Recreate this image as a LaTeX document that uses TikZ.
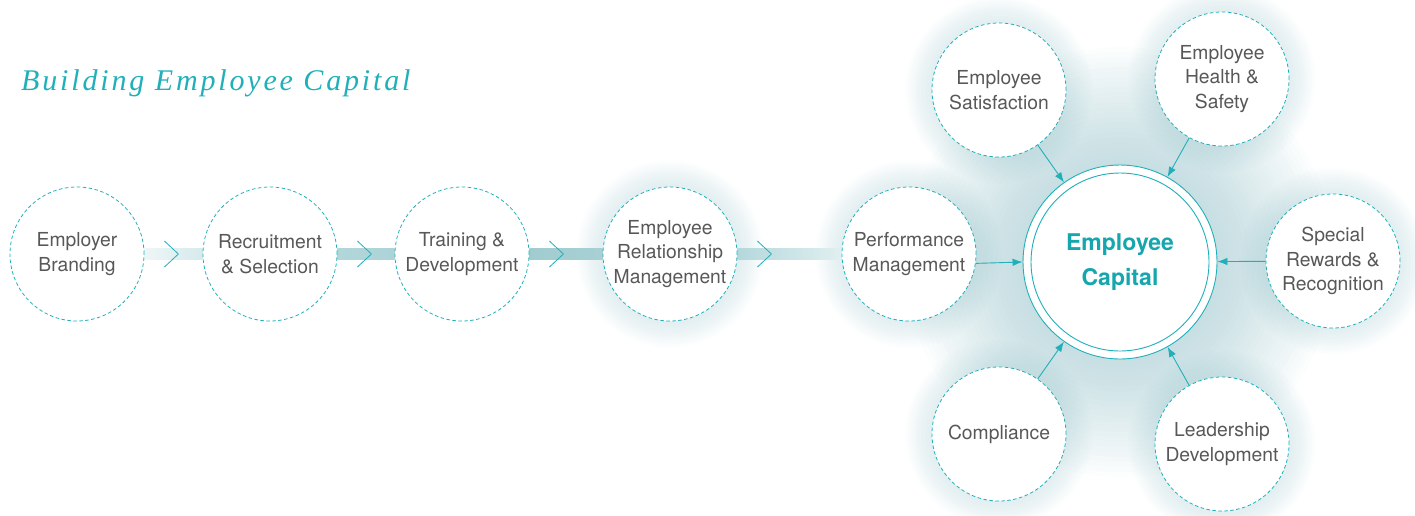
\documentclass[tikz,border=0pt]{standalone}
\usepackage{fontspec}
\setmainfont{TeX Gyre Heros}
\newfontfamily\titlefont[LetterSpace=9.5]{Liberation Serif}
\usetikzlibrary{arrows.meta,backgrounds}

\definecolor{ecteal}{RGB}{32,176,186}
\definecolor{ecdark}{RGB}{22,166,174}
\definecolor{ecgray}{RGB}{88,88,88}
\definecolor{ecglow}{RGB}{105,168,178}
\definecolor{barA}{RGB}{238,246,247}
\definecolor{barB}{RGB}{214,234,236}
\definecolor{barC}{RGB}{178,215,219}
\definecolor{barD}{RGB}{172,211,215}
\definecolor{barE}{RGB}{160,204,208}
\definecolor{barF}{RGB}{168,208,212}
\definecolor{barG}{RGB}{180,216,220}
\definecolor{barH}{RGB}{225,239,240}

\pgfdeclareradialshading{coreshade}{\pgfpoint{0bp}{0bp}}{color(0bp)=(white); color(38bp)=(white); color(50bp)=(ecglow!22!white)}

\tikzset{
  every node/.style={font=\fontsize{19.3pt}{24.5pt}\selectfont, text=ecgray},
  stage/.style={circle, minimum size=134pt, inner sep=0pt, align=center, draw=ecteal, line width=0.8pt, dash pattern=on 3.5pt off 2.5pt, fill=white},
  core/.style={circle, minimum size=194pt, inner sep=0pt, draw=ecteal, line width=0.9pt, fill=white},
  feed/.style={draw=ecteal, line width=0.9pt, -{Latex[length=10pt,width=7.5pt]}},
  chevron/.style={draw=ecteal, line width=0.8pt},
}

\begin{document}
\begin{tikzpicture}[x=1pt,y=-1pt]
\useasboundingbox (0,0) rectangle (1415,515);

\node[anchor=base west, inner sep=0pt, text=ecteal, font=\titlefont\itshape\fontsize{30pt}{32pt}\selectfont] (title) at (21,90) {Building Employee Capital};

\node[stage] (eb) at (77,254) {Employer\\Branding};
\node[stage] (rs) at (270,254) {Recruitment\\\& Selection};
\node[stage] (td) at (462,254) {Training \&\\Development};
\node[stage] (erm) at (670,254) {Employee\\Relationship\\Management};
\node[stage] (pm) at (909,254) {Performance\\Management};

\node[core] (ec) at (1120,262) {};
\shade[shading=coreshade] (ec) circle (89pt);
\draw[ecteal, line width=0.9pt] (ec) circle (89pt);
\node[text=ecdark, font=\fontsize{23pt}{35pt}\selectfont\bfseries, align=center] (ectext) at (ec) {Employee\\Capital};

\node[stage] (es) at (999,90) {Employee\\Satisfaction};
\node[stage] (hs) at (1222,79) {Employee\\Health \&\\Safety};
\node[stage] (sr) at (1333,261) {Special\\Rewards \&\\Recognition};
\node[stage] (co) at (999,434) {Compliance};
\node[stage] (ld) at (1222,444) {Leadership\\Development};

\draw[feed] (pm.-8) -- (ec.west);
\draw[feed] (sr) -- (ec);
\draw[feed] (es) -- (ec);
\draw[feed] (hs) -- (ec);
\draw[feed] (co) -- (ec);
\draw[feed] (ld) -- (ec);

\begin{scope}[on background layer]
\foreach \r in {100,105,...,215} \fill[ecglow, opacity=.02] (ec) circle (\r pt);
\foreach \n in {erm,pm,es,hs,sr,co,ld} \foreach \r in {68,70,...,94} \fill[ecglow, opacity=.016] (\n) circle (\r pt);
\shade[left color=barA, right color=barB] ([yshift=5.5pt]eb.east) rectangle ([yshift=-5.5pt]rs.west);
\shade[left color=barC, right color=barD] ([yshift=5.5pt]rs.east) rectangle ([yshift=-5.5pt]td.west);
\shade[left color=barE, right color=barF] ([yshift=5.5pt]td.east) rectangle ([yshift=-5.5pt]erm.west);
\shade[left color=barG, right color=barH] ([yshift=5.5pt]erm.east) rectangle ([yshift=-5.5pt]pm.west);
\end{scope}

\draw[chevron] ([shift={(20pt,13pt)}]eb.east) -- ++(14pt,-13pt) -- ++(-14pt,-13pt);
\draw[chevron] ([shift={(20pt,13pt)}]rs.east) -- ++(14pt,-13pt) -- ++(-14pt,-13pt);
\draw[chevron] ([shift={(20pt,13pt)}]td.east) -- ++(14pt,-13pt) -- ++(-14pt,-13pt);
\draw[chevron] ([shift={(20pt,13pt)}]erm.east) -- ++(14pt,-13pt) -- ++(-14pt,-13pt);
\end{tikzpicture}
\end{document}
